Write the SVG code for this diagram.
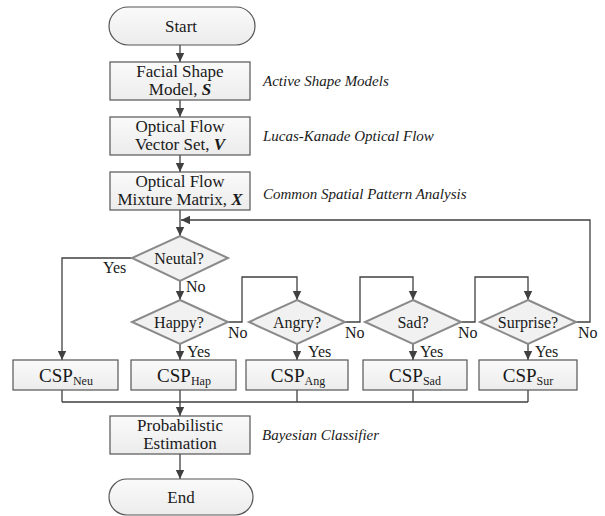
<svg xmlns="http://www.w3.org/2000/svg" width="605" height="516" viewBox="0 0 605 516">
<defs>
<linearGradient id="g" x1="0" y1="0" x2="0" y2="1"><stop offset="0" stop-color="#fafafa"/><stop offset="1" stop-color="#ececec"/></linearGradient>
<marker id="ah" markerWidth="10" markerHeight="10" refX="9" refY="5" orient="auto" markerUnits="userSpaceOnUse"><path d="M0,0.8 L9,5 L0,9.2 Z" fill="#404040"/></marker>
<style>
.box{fill:url(#g);stroke:#555;stroke-width:1.2}
.dia{fill:#f1f1f1;stroke:#8a8a8a;stroke-width:2}
.t{font-family:'Liberation Serif',serif;font-size:17px;fill:#1a1a1a;text-anchor:middle}
.d{font-family:'Liberation Serif',serif;font-size:16px;fill:#1a1a1a;text-anchor:middle}
.cs{font-family:'Liberation Serif',serif;font-size:19px;fill:#1a1a1a;text-anchor:middle}
.l{font-family:'Liberation Serif',serif;font-size:16px;fill:#1a1a1a}
.it{font-family:'Liberation Serif',serif;font-size:15px;font-style:italic;fill:#1a1a1a}
.sub{font-size:12px}
.c{fill:none;stroke:#404040;stroke-width:1.3}
.ca{fill:none;stroke:#404040;stroke-width:1.3;marker-end:url(#ah)}
</style>
</defs>
<rect width="605" height="516" fill="#fff"/>
<g id="connectors">
<path class="ca" d="M180,45 V62"/>
<path class="ca" d="M180,100 V117"/>
<path class="ca" d="M180,155 V172"/>
<path class="ca" d="M180,210 V236"/>
<path class="ca" d="M576,322 H590 V220 H181"/>
<path class="ca" d="M132,258 H62 V360"/>
<path class="ca" d="M180,281 V300"/>
<path class="ca" d="M180,344 V360"/>
<path class="ca" d="M228,322 H242 V277 H297 V300"/>
<path class="ca" d="M297,344 V360"/>
<path class="ca" d="M345,322 H360 V277 H413 V300"/>
<path class="ca" d="M413,344 V360"/>
<path class="ca" d="M461,322 H475 V277 H528 V300"/>
<path class="ca" d="M528,344 V360"/>
<path class="c" d="M62,390 V402 M180,390 V402 M297,390 V402 M413,390 V402 M528,390 V402 M62,402 H528"/>
<path class="ca" d="M180,402 V416"/>
<path class="ca" d="M180,454 V479"/>
</g>
<g id="start"><rect class="box" x="109" y="7" width="146" height="38" rx="19"/><text class="t" x="181" y="32">Start</text></g>
<g id="facial"><rect class="box" x="110" y="62" width="140" height="38"/><text class="t" x="180" y="77">Facial Shape</text><text class="t" x="180" y="95">Model, <tspan font-weight="bold" font-style="italic">S</tspan></text></g>
<g id="vector"><rect class="box" x="110" y="117" width="140" height="38"/><text class="t" x="180" y="132">Optical Flow</text><text class="t" x="180" y="150">Vector Set, <tspan font-weight="bold" font-style="italic">V</tspan></text></g>
<g id="mixture"><rect class="box" x="110" y="172" width="140" height="38"/><text class="t" x="180" y="187">Optical Flow</text><text class="t" x="180" y="205">Mixture Matrix, <tspan font-weight="bold" font-style="italic">X</tspan></text></g>
<g id="neutal"><path class="dia" d="M180,236 L228,258 L180,281 L132,258 Z"/><text class="d" x="179" y="264">Neutal?</text></g>
<g id="happy"><path class="dia" d="M180,300 L228,322 L180,344 L132,322 Z"/><text class="d" x="179" y="328">Happy?</text></g>
<g id="angry"><path class="dia" d="M297,300 L345,322 L297,344 L249,322 Z"/><text class="d" x="297" y="328">Angry?</text></g>
<g id="sad"><path class="dia" d="M413,300 L461,322 L413,344 L365,322 Z"/><text class="d" x="413" y="328">Sad?</text></g>
<g id="surprise"><path class="dia" d="M528,300 L576,322 L528,344 L480,322 Z"/><text class="d" x="528" y="328">Surprise?</text></g>
<g id="labels">
<text class="l" x="103" y="273">Yes</text>
<text class="l" x="186" y="292">No</text>
<text class="l" x="187" y="357">Yes</text>
<text class="l" x="228" y="338">No</text>
<text class="l" x="308" y="357">Yes</text>
<text class="l" x="345" y="338">No</text>
<text class="l" x="420" y="357">Yes</text>
<text class="l" x="458" y="338">No</text>
<text class="l" x="535" y="357">Yes</text>
<text class="l" x="578" y="338">No</text>
</g>
<g id="csp_neu"><rect class="box" x="13" y="360" width="105" height="30"/><text class="cs" x="66" y="382">CSP<tspan class="sub" dy="3">Neu</tspan></text></g>
<g id="csp_hap"><rect class="box" x="131" y="360" width="105" height="30"/><text class="cs" x="184" y="382">CSP<tspan class="sub" dy="3">Hap</tspan></text></g>
<g id="csp_ang"><rect class="box" x="246" y="360" width="102" height="30"/><text class="cs" x="298" y="382">CSP<tspan class="sub" dy="3">Ang</tspan></text></g>
<g id="csp_sad"><rect class="box" x="363" y="360" width="104" height="30"/><text class="cs" x="415" y="382">CSP<tspan class="sub" dy="3">Sad</tspan></text></g>
<g id="csp_sur"><rect class="box" x="479" y="360" width="98" height="30"/><text class="cs" x="528" y="382">CSP<tspan class="sub" dy="3">Sur</tspan></text></g>
<g id="prob"><rect class="box" x="110" y="416" width="140" height="38"/><text class="t" x="180" y="431">Probabilistic</text><text class="t" x="180" y="449">Estimation</text></g>
<g id="end"><rect class="box" x="109" y="479" width="144" height="36" rx="18"/><text class="t" x="181" y="503">End</text></g>
<g id="notes">
<text class="it" x="263" y="86">Active Shape Models</text>
<text class="it" x="263" y="141">Lucas-Kanade Optical Flow</text>
<text class="it" x="263" y="199">Common Spatial Pattern Analysis</text>
<text class="it" x="262" y="440">Bayesian Classifier</text>
</g>
</svg>
